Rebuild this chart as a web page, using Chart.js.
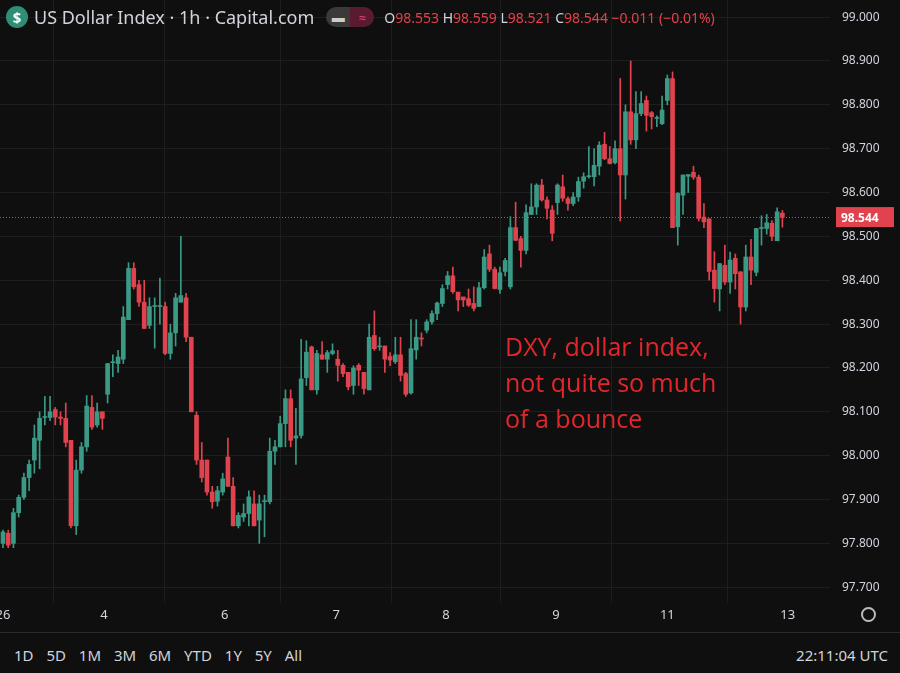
<!DOCTYPE html>
<html><head><meta charset="utf-8">
<script src="https://cdn.jsdelivr.net/npm/chart.js@4/dist/chart.umd.min.js"></script>
<style>
html,body{margin:0;padding:0;background:#0f0f0f;width:900px;height:673px;overflow:hidden;font-family:"Noto Sans",Roboto,sans-serif}
#wrap{position:absolute;left:0;top:0;width:900px;height:632px}
#hdr{position:absolute;left:6px;top:5px;display:flex;align-items:center;color:#d1d4dc;font-size:18px}
.coin{width:22px;height:22px;border-radius:50%;background:#2f8f76;color:#fff;font-weight:bold;font-size:15px;display:flex;align-items:center;justify-content:center;margin-right:6px}
.pill{display:inline-flex;margin-left:12px;border-radius:10px;overflow:hidden;height:20px}
.pill span{display:inline-block;width:24px;height:20px;text-align:center;font-size:13px;line-height:20px}
.ohlc{margin-left:10px;font-size:14px;color:#d1d4dc}
.ohlc b{font-weight:normal;color:#e2424d}
#note{position:absolute;left:505px;top:328px;color:#e3262b;font-size:25px;line-height:36px;font-family:"Open Sans",sans-serif}
#bar{position:absolute;left:0;top:632px;width:900px;height:41px;border-top:1px solid #2a2a2a;color:#d1d4dc;font-size:15px}
#bar .r{position:absolute;left:14px;top:12px;word-spacing:9px}
#bar .t{position:absolute;right:12px;top:12px}
#gear{position:absolute;left:861px;top:607px;width:15px;height:15px;border:2px solid #bbb;border-radius:50%;box-sizing:border-box}
</style></head><body>
<div id="wrap"><canvas id="c"></canvas></div>
<div id="hdr"><div class="coin">$</div><span>US Dollar Index · 1h · Capital.com</span>
<span class="pill"><span style="background:#3a3a3a;color:#ccc">▬</span><span style="background:#5a1a30;color:#e2426d">≈</span></span>
<span class="ohlc">O<b>98.553</b> H<b>98.559</b> L<b>98.521</b> C<b>98.544</b> <b>−0.011 (−0.01%)</b></span></div>
<div id="note">DXY, dollar index,<br>not quite so much<br>of a bounce</div>
<div id="gear"></div>
<div id="bar"><span class="r">1D 5D 1M 3M 6M YTD 1Y 5Y All</span><span class="t">22:11:04 UTC</span></div>
<script>
const opens=[97.80,97.823,97.80,97.87,97.905,97.95,97.99,98.035,98.087,98.087,98.105,98.088,98.085,98.035,97.84,97.967,98.02,98.11,98.07,98.10,
98.14,98.212,98.21,98.22,98.31,98.427,98.39,98.35,98.297,98.34,98.34,98.34,98.233,98.28,98.35,98.36,98.27,98.092,97.99,97.99,
97.917,97.896,97.917,97.997,97.93,97.84,97.86,97.868,97.89,97.853,97.895,97.895,98.01,98.02,98.073,98.13,98.04,98.046,98.178,98.248,
98.15,98.23,98.22,98.233,98.22,98.206,98.19,98.16,98.206,98.19,98.15,98.274,98.248,98.25,98.226,98.214,98.23,98.187,98.143,98.241,
98.268,98.286,98.305,98.324,98.347,98.39,98.41,98.373,98.362,98.358,98.347,98.34,98.383,98.46,98.425,98.379,98.42,98.385,98.52,98.495,
98.468,98.55,98.567,98.617,98.583,98.56,98.577,98.613,98.586,98.575,98.59,98.626,98.636,98.636,98.66,98.71,98.677,98.668,98.70,98.64,
98.784,98.72,98.78,98.81,98.782,98.769,98.757,98.81,98.86,98.522,98.594,98.637,98.646,98.635,98.544,98.54,98.423,98.38,98.434,98.396,
98.45,98.419,98.339,98.453,98.418,98.518,98.518,98.53,98.49,98.553];
const closes=[97.826,97.796,97.87,97.905,97.95,97.98,98.04,98.085,98.087,98.10,98.088,98.085,98.03,97.84,97.967,98.02,98.113,98.065,98.10,98.085,
98.21,98.212,98.225,98.316,98.427,98.385,98.35,98.29,98.34,98.34,98.341,98.233,98.28,98.36,98.365,98.27,98.10,97.99,97.95,97.917,
97.895,97.92,97.947,97.93,97.84,97.864,97.868,97.906,97.84,97.89,97.896,98.01,98.02,98.073,98.13,98.035,98.045,98.175,98.236,98.15,
98.233,98.22,98.235,98.239,98.206,98.187,98.157,98.20,98.195,98.153,98.27,98.244,98.249,98.22,98.218,98.23,98.183,98.14,98.244,98.27,
98.266,98.305,98.324,98.348,98.381,98.41,98.374,98.355,98.355,98.343,98.336,98.383,98.453,98.425,98.381,98.417,98.445,98.52,98.491,98.468,
98.554,98.567,98.617,98.583,98.564,98.507,98.617,98.587,98.575,98.59,98.625,98.636,98.637,98.662,98.708,98.677,98.666,98.70,98.64,98.784,
98.72,98.78,98.803,98.776,98.773,98.770,98.788,98.86,98.52,98.598,98.64,98.641,98.635,98.541,98.533,98.42,98.381,98.438,98.396,98.446,
98.415,98.339,98.453,98.423,98.518,98.519,98.531,98.50,98.556,98.544];
const highs=[97.83,97.83,97.88,97.91,97.96,97.99,98.07,98.10,98.135,98.135,98.11,98.10,98.12,98.035,97.99,98.03,98.137,98.137,98.12,98.10,
98.21,98.23,98.24,98.34,98.44,98.44,98.40,98.40,98.36,98.36,98.405,98.35,98.30,98.37,98.50,98.37,98.27,98.10,98.03,97.99,
97.93,97.93,97.96,98.04,97.95,97.87,97.89,97.92,97.92,97.91,97.91,98.04,98.035,98.09,98.15,98.15,98.108,98.265,98.262,98.25,
98.24,98.26,98.24,98.255,98.24,98.21,98.19,98.205,98.21,98.19,98.30,98.33,98.27,98.25,98.235,98.27,98.27,98.19,98.31,98.31,
98.28,98.31,98.33,98.35,98.39,98.42,98.43,98.37,98.36,98.38,98.385,98.395,98.47,98.48,98.43,98.43,98.45,98.545,98.578,98.50,
98.572,98.62,98.62,98.63,98.59,98.57,98.62,98.64,98.59,98.60,98.635,98.645,98.705,98.70,98.716,98.737,98.705,98.718,98.86,98.80,
98.90,98.83,98.83,98.82,98.785,98.775,98.82,98.868,98.875,98.60,98.64,98.64,98.66,98.64,98.575,98.54,98.465,98.438,98.48,98.464,
98.46,98.42,98.48,98.493,98.518,98.547,98.55,98.536,98.565,98.559];
const lows=[97.79,97.79,97.79,97.86,97.90,97.92,97.96,97.97,98.07,98.08,98.07,98.07,98.02,97.835,97.82,97.96,98.01,98.06,98.065,98.06,
98.12,98.18,98.19,98.21,98.31,98.38,98.34,98.29,98.29,98.245,98.30,98.23,98.22,98.25,98.35,98.26,98.10,97.98,97.94,97.91,
97.88,97.885,97.91,97.93,97.84,97.835,97.85,97.84,97.84,97.80,97.815,97.89,97.98,98.02,98.02,98.02,97.98,98.04,98.16,98.15,
98.14,98.22,98.19,98.23,98.17,98.18,98.15,98.14,98.16,98.14,98.15,98.24,98.24,98.19,98.205,98.21,98.17,98.135,98.14,98.22,
98.25,98.28,98.30,98.31,98.34,98.38,98.37,98.33,98.34,98.34,98.33,98.34,98.38,98.42,98.38,98.37,98.41,98.38,98.49,98.43,
98.46,98.55,98.55,98.58,98.54,98.49,98.55,98.58,98.56,98.57,98.58,98.61,98.633,98.615,98.64,98.675,98.665,98.665,98.535,98.585,
98.71,98.70,98.775,98.74,98.745,98.75,98.755,98.80,98.52,98.48,98.55,98.60,98.63,98.535,98.52,98.40,98.35,98.33,98.39,98.37,
98.38,98.30,98.33,98.39,98.41,98.48,98.505,98.49,98.49,98.521];
const dayPos=[0,19.3,42.4,63.7,84.7,105.7,127,150];
const dayLabels=["26","4","6","7","8","9","11","13"];
const priceTicks=[97.7,97.8,97.9,98.0,98.1,98.2,98.3,98.4,98.5,98.6,98.7,98.8,98.9,99.0];
const lastPrice=98.544;

const UP='#3a9a85', DN='#e0434e';
const idx=opens.map((_,i)=>i);
const col=ctx=>closes[ctx.dataIndex]>=opens[ctx.dataIndex]?UP:DN;
const labels={id:'lbl',afterDraw(ch){
  const c=ch.ctx,a=ch.chartArea,xs=ch.scales.x,ys=ch.scales.y;
  c.save();c.fillStyle='#d1d4dc';c.font='13px "Noto Sans"';c.textAlign='center';c.textBaseline='middle';
  dayPos.forEach((v,k)=>c.fillText(dayLabels[k],xs.getPixelForValue(v),a.bottom+12));
  c.font='12px "Noto Sans"';c.textAlign='left';
  priceTicks.forEach(v=>c.fillText(v.toFixed(3),a.right+12,ys.getPixelForValue(v)));
  const y=ys.getPixelForValue(lastPrice);
  c.strokeStyle='#e0434e';c.setLineDash([1,2]);c.lineWidth=1;
  c.beginPath();c.moveTo(a.left,Math.round(y)+0.5);c.lineTo(a.right,Math.round(y)+0.5);c.stroke();
  c.setLineDash([]);c.fillStyle='#e0434e';c.fillRect(a.right+6,y-10,58,20);
  c.fillStyle='#fff';c.font='bold 12px "Noto Sans"';c.fillText(lastPrice.toFixed(3),a.right+11,y+1);
  c.restore();}};
new Chart(document.getElementById('c'),{
  type:'bar',
  data:{datasets:[
    {data:idx.map(i=>({x:i,y:[lows[i],highs[i]]})),backgroundColor:col,barThickness:1,grouped:false,order:2},
    {data:idx.map(i=>({x:i,y:[opens[i],closes[i]]})),backgroundColor:col,barThickness:4,minBarLength:1,grouped:false,order:1}
  ]},
  options:{responsive:true,maintainAspectRatio:false,animation:false,
    layout:{padding:0},
    plugins:{legend:{display:false},tooltip:{enabled:false}},
    scales:{
      x:{type:'linear',min:-0.57,max:158.1,offset:false,
        afterBuildTicks:s=>{s.ticks=dayPos.map(v=>({value:v}));},
        afterFit:s=>{s.height=29;},
        ticks:{display:false},
        grid:{color:'#1e1e1e',drawTicks:false},border:{display:false}},
      y:{position:'right',min:97.664,max:99.039,
        afterBuildTicks:s=>{s.ticks=priceTicks.map(v=>({value:v}));},
        afterFit:s=>{s.width=70;},
        ticks:{display:false},
        grid:{color:'#1e1e1e',drawTicks:false},border:{display:false}}
    }},
  plugins:[labels]
});
</script></body></html>
